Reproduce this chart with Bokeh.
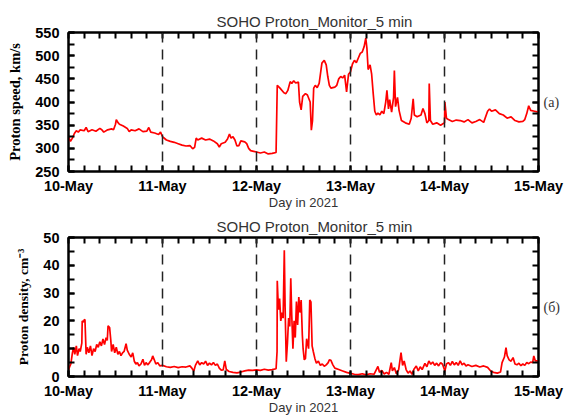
from bokeh.plotting import figure
from bokeh.models import Range1d, LinearAxis, FixedTicker, Span, ColumnDataSource
from bokeh.layouts import column
from bokeh.embed import file_html
from bokeh.resources import INLINE

# ---------------- data ----------------
day_hours = [0, 24, 48, 72, 96, 120]
day_labels = ["10-May", "11-May", "12-May", "13-May", "14-May", "15-May"]
hour_minor = list(range(0, 121, 4))
day_dividers = [24, 48, 72, 96]

speed_ticks = [250, 300, 350, 400, 450, 500, 550]
speed_minor = list(range(250, 551, 25))
dens_ticks = [0, 10, 20, 30, 40, 50]
dens_minor = list(range(0, 51, 5))

title_text = "SOHO Proton_Monitor_5 min"
x_label = "Day in 2021"
speed_label = "Proton speed, km/s"
dens_label = "Proton density, cm\u207b\u00b3"
speed_tag, speed_tag_at = "(a)", 400
dens_tag, dens_tag_at = "(\u0431)", 25

speed_hours = [0.0, 0.5, 1.0, 1.5, 2.0, 2.5, 3.0, 4.0, 4.5, 5.0, 6.0, 7.0, 8.0, 8.5, 9.0,
               10.0, 11.0, 11.5, 12.0, 12.2, 12.6, 13.0, 14.0, 15.0, 15.5, 16.0, 17.0, 18.0,
               19.0, 20.0, 20.5, 21.0, 22.0, 23.0, 23.5, 24.0, 25.0, 26.0, 27.0, 28.0, 29.0,
               30.0, 31.0, 31.7, 32.2, 32.6, 33.0, 34.0, 35.0, 36.0, 37.0, 38.0, 38.5, 39.0,
               40.0, 40.6, 41.1, 41.5, 42.0, 42.5, 43.0, 43.5, 44.0, 45.0, 45.5, 46.0, 46.5,
               47.0, 48.0, 49.0, 50.0, 51.0, 52.0, 53.0, 53.3, 54.0, 55.0, 55.5, 56.0, 56.6,
               57.0, 57.5, 58.0, 58.7, 59.0, 59.4, 59.8, 60.5, 61.0, 61.7, 62.0, 62.3, 62.6,
               63.0, 63.5, 64.0, 64.7, 65.3, 65.8, 66.2, 66.6, 67.0, 68.0, 68.5, 69.0, 69.5,
               70.0, 70.5, 71.0, 71.5, 72.0, 72.5, 73.0, 73.5, 74.0, 74.5, 75.0, 75.5, 75.9,
               76.2, 76.5, 77.0, 77.4, 77.8, 78.2, 78.6, 79.0, 79.5, 80.0, 80.5, 81.0, 81.3,
               81.7, 82.0, 82.5, 83.0, 83.2, 83.5, 84.0, 84.4, 85.0, 86.0, 87.0, 87.5, 88.0,
               88.3, 89.0, 90.0, 90.5, 91.0, 91.5, 92.0, 92.1, 92.4, 93.0, 94.0, 95.0, 96.0,
               96.1, 96.5, 97.0, 98.0, 99.0, 100.0, 101.0, 102.0, 103.0, 104.0, 105.0, 106.0,
               107.0, 107.5, 108.0, 109.0, 110.0, 111.0, 112.0, 113.0, 114.0, 115.0, 116.0,
               116.5, 117.0, 117.5, 118.0, 119.0, 120.0]
speed_values = [325, 315, 322, 332, 338, 335, 340, 338, 345, 336, 340, 337, 343, 340, 335,
                340, 342, 340, 352, 362, 356, 352, 348, 343, 336, 340, 338, 342,
                336, 337, 345, 335, 333, 330, 335, 325, 318, 315, 313, 310, 307,
                305, 306, 299, 302, 322, 318, 322, 318, 320, 316, 310, 303, 310,
                313, 320, 331, 322, 325, 318, 305, 306, 316, 314, 310, 300, 295,
                294, 292, 290, 292, 288, 289, 291, 436, 430, 420, 418, 425, 444,
                440, 446, 441, 443, 400, 383, 412, 418, 415, 400, 339, 360, 430,
                436, 431, 440, 484, 490, 480, 455, 436, 430, 432, 436, 450, 455,
                452, 458, 422, 460, 465, 482, 490, 485, 495, 505, 508, 520, 538,
                515, 470, 480, 460, 418, 380, 372, 376, 372, 380, 375, 400, 425,
                385, 405, 378, 410, 468, 390, 410, 382, 360, 355, 352, 365, 407,
                372, 368, 372, 386, 375, 355, 360, 440, 360, 352, 355, 350, 355,
                400, 365, 362, 358, 361, 360, 357, 362, 355, 358, 362, 356,
                380, 385, 380, 383, 375, 372, 365, 368, 360, 357, 358,
                362, 375, 392, 382, 380, 378]

dens_hours = [0.0, 0.3, 0.6, 1.0, 1.3, 1.6, 2.0, 2.3, 2.7, 3.0, 3.4, 3.5, 3.8, 4.0, 4.2,
              4.5, 4.8, 5.2, 5.6, 6.0, 6.4, 6.8, 7.2, 7.6, 8.0, 8.4, 8.8, 9.2, 9.6, 9.9,
              10.1, 10.5, 10.8, 11.0, 11.4, 11.8, 12.2, 12.6, 13.0, 13.4, 13.8, 14.2, 14.7,
              15.0, 15.5, 16.0, 16.4, 16.8, 17.2, 17.6, 18.0, 18.5, 19.0, 19.4, 19.8, 20.2,
              20.7, 21.2, 21.5, 21.9, 22.3, 22.8, 23.3, 24.0, 25.0, 26.0, 27.0, 28.0, 29.0,
              30.0, 31.0, 31.5, 32.0, 32.4, 33.0, 33.5, 34.0, 34.5, 35.0, 35.5, 36.0, 36.5,
              37.0, 37.5, 38.0, 38.5, 39.0, 39.5, 39.9, 40.3, 41.0, 42.0, 43.0, 44.0, 45.0,
              46.0, 47.0, 48.0, 49.0, 50.0, 51.0, 52.0, 53.0, 53.25, 53.3, 53.6, 53.9, 54.2,
              54.5, 54.8, 55.1, 55.3, 55.6, 55.9, 56.2, 56.5, 56.75, 57.0, 57.3, 57.6, 57.9,
              58.2, 58.5, 58.8, 59.1, 59.4, 59.7, 59.9, 60.2, 60.5, 60.8, 61.3, 61.6, 61.9,
              62.2, 62.5, 62.9, 63.3, 63.8, 64.3, 64.8, 65.3, 65.8, 66.3, 66.6, 67.0, 67.5,
              68.0, 69.0, 70.0, 71.0, 72.0, 73.0, 74.0, 75.0, 76.0, 77.0, 78.0, 78.6, 79.0,
              79.4, 80.0, 80.6, 81.2, 81.8, 82.4, 82.7, 83.2, 83.7, 84.3, 84.9, 85.3, 85.7,
              86.2, 86.7, 87.2, 87.7, 88.2, 88.8, 89.3, 89.8, 90.3, 91.0, 91.5, 92.0, 92.5,
              93.0, 93.5, 94.0, 94.5, 95.0, 95.5, 96.1, 96.5, 97.0, 97.5, 98.0, 98.5, 99.0,
              99.5, 100.0, 100.5, 101.0, 101.5, 102.0, 103.0, 104.0, 105.0, 106.0, 107.0,
              107.8, 108.5, 109.5, 110.3, 110.7, 111.3, 111.7, 112.0, 112.5, 113.0, 113.5,
              114.0, 114.5, 115.0, 115.5, 116.0, 116.5, 117.0, 117.5, 118.0, 118.5, 118.8,
              119.2, 120.0]
dens_values = [2.5, 3.5, 4.5, 8.5, 10.5, 8.0, 11.0, 7.5, 10.0, 9.0, 12.0, 20.0, 19.5, 20.3, 20.5,
               8.0, 10.5, 8.5, 11.0, 7.5, 10.0, 9.0, 11.5, 10.5, 12.5, 11.0, 13.5, 11.5, 14.0, 13.0,
               18.2, 17.6, 13.0, 9.0, 11.5, 8.5, 10.5, 8.0, 9.0, 7.5, 8.5, 9.0, 11.8,
               9.5, 8.0, 7.0, 8.5, 5.5, 4.5, 5.0, 3.8, 4.5, 6.2, 4.0, 5.0, 4.2,
               5.0, 6.0, 7.4, 6.0, 4.5, 5.0, 3.8, 4.0, 3.5, 3.3, 3.6, 3.2, 3.5,
               3.4, 3.8, 3.0, 2.0, 4.0, 5.6, 4.2, 5.0, 4.5, 5.5, 4.0, 4.8, 4.2,
               5.0, 4.0, 4.5, 3.0, 2.3, 2.4, 5.6, 2.5, 1.8, 1.5, 1.3, 1.6, 2.0,
               2.3, 2.2, 2.4, 2.2, 2.6, 2.3, 2.5, 2.8, 9.0, 34.4, 24.0, 28.0, 20.0,
               23.0, 21.0, 45.4, 25.0, 5.3, 12.0, 21.0, 18.0, 35.3, 22.0, 10.0, 20.0, 14.0,
               27.0, 18.5, 28.6, 23.0, 27.5, 15.0, 10.0, 6.0, 6.5, 13.6, 10.0, 27.5, 26.8,
               11.0, 9.0, 6.5, 4.8, 5.5, 4.0, 4.5, 3.7, 4.2, 5.0, 6.0, 5.8, 4.2,
               3.0, 2.5, 2.0, 1.5, 1.1, 0.8, 0.7, 1.0, 0.6, 1.0, 0.8, 2.5, 3.6,
               1.5, 2.2, 0.9, 1.5, 0.8, 5.0, 2.0, 3.2, 1.0, 2.5, 8.6, 4.0, 5.6,
               2.5, 1.2, 2.0, 0.8, 2.6, 3.8, 2.0, 3.5, 2.5, 4.7, 3.5, 5.6, 4.4,
               5.2, 4.0, 4.8, 3.8, 5.0, 4.4, 2.0, 4.5, 5.0, 4.0, 5.4, 4.2, 5.0,
               4.0, 5.6, 4.2, 4.8, 3.8, 4.2, 3.6, 4.0, 3.4, 3.8, 3.3,
               2.0, 1.5, 1.2, 1.6, 5.0, 7.0, 10.4, 7.5, 6.0, 5.5, 6.8,
               4.5, 4.2, 4.8, 3.9, 4.5, 4.0, 5.0, 4.6, 5.2, 5.0, 7.4,
               5.6, 5.6]

SANS = "Liberation Sans"
SERIF = "Liberation Serif"


def style_ticks(ax):
    ax.axis_line_color = "black"
    ax.axis_line_width = 2
    ax.major_tick_in = 6
    ax.major_tick_out = 0
    ax.minor_tick_in = 6
    ax.minor_tick_out = 0
    ax.major_tick_line_color = "black"
    ax.minor_tick_line_color = "black"
    ax.major_tick_line_width = 2
    ax.minor_tick_line_width = 2


def make_panel(xs, ys, y_start, y_end, y_ticks, y_minor, y_label, y_label_size,
               tag, tag_at, height, border):
    p = figure(width=570, height=height, output_backend="svg", toolbar_location=None,
               x_range=Range1d(0, 120), y_range=Range1d(y_start, y_end),
               min_border_left=border[0], min_border_right=border[1],
               min_border_top=border[2], min_border_bottom=border[3])
    p.background_fill_color = "white"
    p.border_fill_color = "white"
    p.outline_line_color = "black"
    p.outline_line_width = 2
    p.xgrid.visible = False
    p.ygrid.visible = False

    p.title.text = title_text
    p.title.text_font = SANS
    p.title.text_font_size = "15px"
    p.title.text_font_style = "normal"
    p.title.text_color = "#333333"
    p.title.align = "left"
    p.title.offset = 148
    p.title.standoff = 5

    xa = p.xaxis[0]
    xa.ticker = FixedTicker(ticks=day_hours, minor_ticks=hour_minor)
    xa.major_label_overrides = {h: l for h, l in zip(day_hours, day_labels)}
    xa.axis_label = x_label
    ya = p.yaxis[0]
    ya.ticker = FixedTicker(ticks=y_ticks, minor_ticks=y_minor)
    ya.axis_label = y_label

    # mirrored inward ticks on the top and right edges
    top = LinearAxis(ticker=FixedTicker(ticks=[], minor_ticks=hour_minor))
    right = LinearAxis(ticker=FixedTicker(ticks=[tag_at], minor_ticks=y_minor))
    right.major_label_overrides = {tag_at: tag}
    p.add_layout(top, "above")
    p.add_layout(right, "right")

    for ax in (xa, ya, top, right):
        style_ticks(ax)
    for ax in (xa, ya):
        ax.major_label_text_font = SANS
        ax.major_label_text_font_style = "bold"
        ax.major_label_text_font_size = "14.5px"
        ax.major_label_text_color = "black"
    top.major_label_standoff = 0

    right.major_label_text_font = SERIF
    right.major_label_text_font_style = "normal"
    right.major_label_text_font_size = "14px"
    right.major_label_text_color = "#333333"
    right.major_label_standoff = 5

    xa.major_label_standoff = 6
    xa.axis_label_text_font = SANS
    xa.axis_label_text_font_style = "normal"
    xa.axis_label_text_font_size = "13px"
    xa.axis_label_text_color = "#333333"
    xa.axis_label_standoff = -2

    ya.major_label_standoff = 9
    ya.axis_label_text_font = SERIF
    ya.axis_label_text_font_style = "bold"
    ya.axis_label_text_font_size = y_label_size
    ya.axis_label_text_color = "black"
    ya.axis_label_standoff = 9

    for loc in day_dividers:
        p.add_layout(Span(location=loc, dimension="height", line_color="#222222",
                          line_width=1.5, line_dash="10 7"))

    src = ColumnDataSource(dict(x=xs, y=ys))
    p.line("x", "y", source=src, line_color="#ff0000", line_width=1.7)
    return p


p1 = make_panel(speed_hours, speed_values, 250, 550, speed_ticks, speed_minor,
                speed_label, "14.5px", speed_tag, speed_tag_at, 213, (68, 28, 32, 42))
p2 = make_panel(dens_hours, dens_values, 0, 50, dens_ticks, dens_minor,
                dens_label, "13.5px", dens_tag, dens_tag_at, 205, (65, 32, 24, 42))

layout = column(p1, p2, spacing=0)
open("out.html", "w").write(file_html(layout, INLINE))
